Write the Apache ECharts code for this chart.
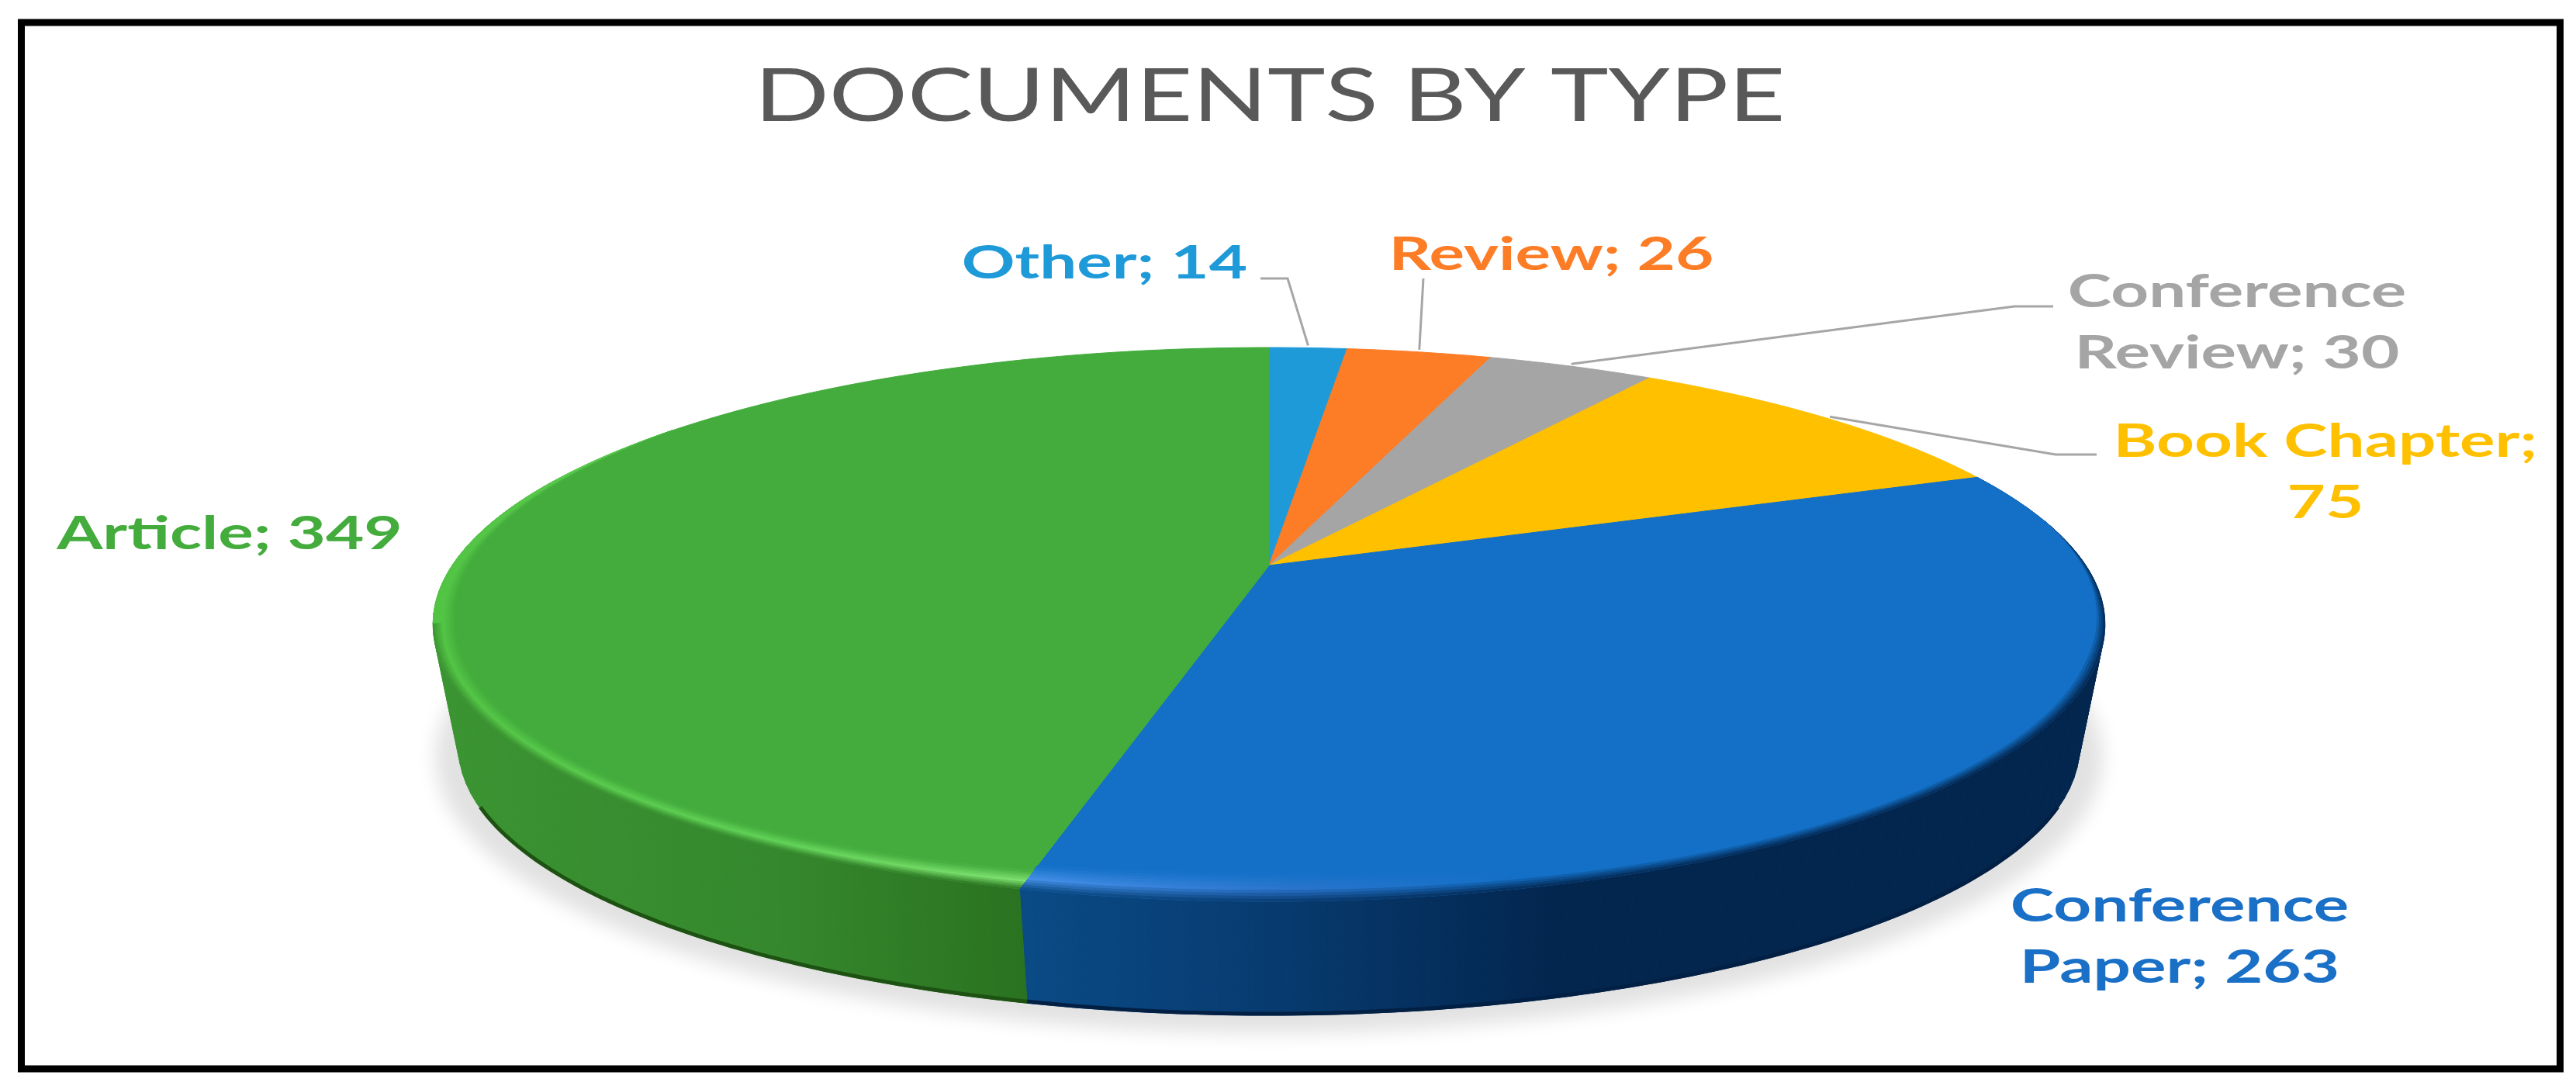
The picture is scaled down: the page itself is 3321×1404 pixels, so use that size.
<!DOCTYPE html>
<html lang="en">
<head>
    <meta charset="UTF-8">
    <title>Documents by type</title>
    <script src="https://cdn.jsdelivr.net/npm/echarts@6/dist/echarts.min.js"></script>
    <style>
        html, body { margin: 0; padding: 0; background: #fff; }
    </style>
</head>
<body>
<div id="main" style="width: 3321px;height:1404px"></div>
<script type="text/javascript">
    var titleText = 'DOCUMENTS BY TYPE';
    var categories = ['Other', 'Review', 'Conference Review', 'Book Chapter', 'Conference Paper', 'Article'];
    var values = [14, 26, 30, 75, 263, 349];
    // how each label breaks over its lines
    var labelBreaks = ['Other; 14', 'Review; 26', 'Conference\nReview; 30', 'Book Chapter;\n75', 'Conference\nPaper; 263', 'Article; 349'];

    var faceColors = ['#1f9ad8', '#fd7c26', '#a5a5a5', '#ffc000', '#1370c6', '#43ac3c'];
    var labelColors = ['#1f9ad8', '#fd7c26', '#a5a5a5', '#ffc000', '#1a6fc6', '#43ac3c'];
    var labelPos = [[1424, 340], [2000, 329], [2884, 416], [2998, 609], [2810, 1208], [296, 689]];
    // label line: points after the start on the rim
    var leaderEnds = [
        [[1660, 359], [1625, 359]],
        [[1835, 359]],
        [[2597, 395], [2647, 395]],
        [[2650, 586], [2703, 586]],
        null,
        null
    ];
    // [x, colour] stops, wall colour and rim highlight
    var wallStops = {
        4: [[1328, '#0a4a85'], [1660, '#073a6e'], [2000, '#03264f'], [2714, '#03264f']],
        5: [[558, '#3b9432'], [1000, '#35882d'], [1328, '#2a7220']]
    };
    var highlightStops = {
        4: [[1328, '#438ee6'], [1660, '#2a74cc'], [1950, '#1370c6'], [2714, '#1370c6']],
        5: [[558, '#52c444'], [1000, '#62d258'], [1328, '#7ee070']]
    };
    // rim band parts: from, to, does it run into the wall
    var bandParts = {
        4: [[80, 194.03, true]],
        5: [[194.03, 258, true], [258, 305, false]]
    };
    var bandWidth = {4: 38, 5: 30};
    var rimDark = {4: '#021f44', 5: '#1d5212'};

    // tilted disc, perspective from the picture
    var cx = 1636, persp = 0.2129;
    var topPlane = {a: 1053, b: 340.8, y0: 729};
    var bottomPlane = {a: 1021, b: 330.6, y0: 889};
    var shadowPlane = {a: 1050, b: 340, y0: 900};
    var apex = [cx, topPlane.y0];
    var total = values.reduce(function (s, v) { return s + v; }, 0);

    function project(deg, plane) {
        var rad = deg * Math.PI / 180;
        var X = Math.sin(rad), Y = -Math.cos(rad);
        var d = 1 - persp * Y;
        return [cx + plane.a * X / d, plane.y0 + plane.b * Y / d];
    }

    function arc(from, to, plane) {
        var pts = [];
        var n = Math.max(2, Math.ceil(Math.abs(to - from)));
        for (var i = 0; i <= n; i++) {
            pts.push(project(from + (to - from) * i / n, plane));
        }
        return pts;
    }

    function mix(c1, c2, t) {
        var out = '#';
        for (var i = 1; i < 7; i += 2) {
            var a = parseInt(c1.substr(i, 2), 16), b = parseInt(c2.substr(i, 2), 16);
            out += ('0' + Math.round(a + (b - a) * t).toString(16)).slice(-2);
        }
        return out;
    }

    function gradient(stops) {
        var x0 = stops[0][0], x1 = stops[stops.length - 1][0];
        return new echarts.graphic.LinearGradient(x0, 0, x1, 0, stops.map(function (s) {
            return {offset: (s[0] - x0) / (x1 - x0), color: s[1]};
        }), true);
    }

    function colorAt(stops, x) {
        for (var k = 0; k < stops.length - 1; k++) {
            if (x <= stops[k + 1][0]) {
                var t = Math.max(0, (x - stops[k][0]) / (stops[k + 1][0] - stops[k][0]));
                return mix(stops[k][1], stops[k + 1][1], t);
            }
        }
        return stops[stops.length - 1][1];
    }

    // rim point pulled towards the apex by dist pixels
    function inset(p, dist) {
        var dx = apex[0] - p[0], dy = apex[1] - p[1];
        var len = Math.sqrt(dx * dx + dy * dy);
        return [p[0] + dx / len * dist, p[1] + dy / len * dist];
    }

    function bandElements(i) {
        var out = [];
        if (!bandParts[i]) return out;
        bandParts[i].forEach(function (part) {
            var from = part[0], to = part[1], toWall = part[2];
            var bands = 10;
            var rimPts = [], widths = [];
            var n = Math.ceil(to - from);
            for (var k = 0; k <= n; k++) {
                var deg = from + (to - from) * k / n;
                rimPts.push(project(deg, topPlane));
                // narrows where the wall goes out of sight
                var taper = 1;
                if (i === 4) taper = Math.min(1, (deg - from) / 30);
                if (!toWall) taper = (to - deg) / (to - from);
                widths.push(bandWidth[i] * taper);
            }
            for (var j = 0; j < bands; j++) {
                var fOut = j / bands, fIn = (j + 1) / bands;
                var outer = rimPts.map(function (p, k) { return inset(p, widths[k] * fOut); });
                var inner = rimPts.map(function (p, k) { return inset(p, widths[k] * fIn); }).reverse();
                var f = 1 - (j + 0.5) / bands;   // 0 at the face, 1 at the wall
                var stops = highlightStops[i].map(function (s) {
                    var c;
                    if (f < 0.55) c = mix(faceColors[i], s[1], f / 0.55);
                    else if (toWall) c = mix(s[1], colorAt(wallStops[i], s[0]), (f - 0.55) / 0.45);
                    else c = s[1];
                    return [s[0], c];
                });
                var g = gradient(stops);
                out.push({
                    type: 'polygon',
                    z2: 6,
                    shape: {points: outer.concat(inner)},
                    style: {fill: g, stroke: g, lineWidth: 1}
                });
            }
        });
        return out;
    }

    function renderSlice(params, api) {
        var i = params.dataIndex;
        var before = 0;
        for (var k = 0; k < i; k++) before += values[k];
        var start = before / total * 360;
        var end = start + api.value(0) / total * 360;
        var kids = [];

        // wall, only the part that shows at the front
        if (wallStops[i]) {
            var g = gradient(wallStops[i]);
            var from = Math.max(start, 60), to = Math.min(end, 290);
            for (var deg = from; deg < to; deg += 2) {
                var next = Math.min(deg + 2, to);
                kids.push({
                    type: 'polygon',
                    z2: 2,
                    shape: {points: [project(deg, topPlane), project(next, topPlane), project(next, bottomPlane), project(deg, bottomPlane)]},
                    style: {fill: g, stroke: g, lineWidth: 1}
                });
            }
            // dark line along the bottom edge
            var rimFrom = Math.max(start, 115), rimTo = Math.min(end, 245);
            kids.push({
                type: 'polyline',
                z2: 3,
                shape: {points: arc(rimFrom, rimTo, bottomPlane).map(function (p) { return [p[0], p[1] - 2]; })},
                style: {fill: null, stroke: rimDark[i], lineWidth: 5}
            });
        }

        // top face
        kids.push({
            type: 'polygon',
            z2: 5,
            shape: {points: [apex].concat(arc(start, end, topPlane))},
            style: {fill: faceColors[i], stroke: faceColors[i], lineWidth: 1}
        });
        kids = kids.concat(bandElements(i));

        // label line from the middle of the slice
        if (leaderEnds[i]) {
            var rimPoint = project((start + end) / 2, topPlane);
            kids.push({
                type: 'polyline',
                z2: 8,
                shape: {points: [[rimPoint[0], rimPoint[1] - 3]].concat(leaderEnds[i])},
                style: {fill: null, stroke: '#a6a6a6', lineWidth: 3}
            });
        }

        kids.push({
            type: 'text',
            z2: 10,
            x: labelPos[i][0],
            y: labelPos[i][1],
            scaleX: 1.42,
            style: {
                text: labelBreaks[i],
                fill: labelColors[i],
                font: '700 60px Lato',
                lineHeight: 79,
                align: 'center',
                verticalAlign: 'middle'
            }
        });

        // soft shadow under the disc, drawn once. the shape sits above the
        // canvas so only its blurred shadow lands on the page
        if (i === 0) {
            kids.push({
                type: 'polygon',
                z2: 0,
                shape: {points: arc(0, 360, shadowPlane).map(function (p) { return [p[0], p[1] - 3000]; })},
                style: {fill: '#e2e2e2', shadowBlur: 24, shadowColor: '#e2e2e2', shadowOffsetY: 3000}
            });
        }
        return {type: 'group', children: kids};
    }

    var myChart = echarts.init(document.getElementById('main'));
    myChart.setOption({
        animation: false,
        backgroundColor: '#fff',
        graphic: [
            {
                type: 'rect',
                silent: true,
                shape: {x: 27.5, y: 29, width: 3273, height: 1349},
                style: {fill: null, stroke: '#000', lineWidth: 9}
            },
            {
                type: 'text',
                silent: true,
                x: 1637,
                y: 125,
                scaleX: 1.33,
                style: {
                    text: titleText,
                    fill: '#595959',
                    font: '400 95px Lato',
                    align: 'center',
                    verticalAlign: 'middle'
                }
            }
        ],
        series: [{
            name: 'Documents',
            type: 'custom',
            coordinateSystem: 'none',
            silent: true,
            renderItem: renderSlice,
            data: values.map(function (v, i) { return {name: categories[i], value: [v]}; })
        }]
    });
</script>
</body>
</html>
